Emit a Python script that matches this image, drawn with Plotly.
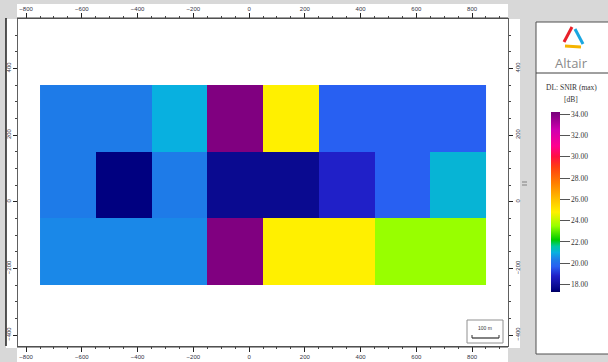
import plotly.graph_objects as go

# ---- data ----
x_centers = [-650, -450, -250, -50, 150, 350, 550, 750]
y_centers = [250, 50, -150]
row_top = [20.3, 20.3, 21.0, 34.0, 24.8, 19.7, 19.7, 19.7]
row_mid = [20.3, 17.5, 20.3, 17.8, 17.8, 18.8, 19.7, 21.1]
row_bot = [20.5, 20.5, 20.5, 34.0, 24.8, 24.8, 23.5, 23.5]
cbar_ticks = [18, 20, 22, 24, 26, 28, 30, 32, 34]
zmin, zmax = 17.3, 34.2

scale_stops = [
    (17.3, "#00005a"), (17.5, "#000080"), (17.8, "#0a0a90"), (18.8, "#2020c8"),
    (19.7, "#2860f2"), (20.3, "#1e7be8"), (20.5, "#1a88e8"), (21.0, "#08b0e0"),
    (21.6, "#00c8a0"), (22.2, "#00cc00"), (23.5, "#98ff00"), (24.8, "#fff000"),
    (26.0, "#ffc000"), (27.5, "#ff8000"), (29.0, "#ff4010"), (30.0, "#ff1040"),
    (31.0, "#ff0090"), (32.5, "#d000b0"), (34.0, "#800080"), (34.2, "#780078"),
]
colorscale = [[(v - zmin) / (zmax - zmin), c] for v, c in scale_stops]
colorscale[0][0] = 0.0
colorscale[-1][0] = 1.0

W, H = 608, 362
L, R, T, B = 18, 508, 19, 346


def px(x):
    return (x - L) / (R - L)


def py(y):
    return (B - y) / (B - T)


fig = go.Figure()
fig.add_trace(go.Heatmap(
    x=x_centers, y=y_centers, z=[row_top, row_mid, row_bot],
    colorscale=colorscale, zmin=zmin, zmax=zmax, hoverinfo="skip",
    colorbar=dict(
        x=px(551), xanchor="left", y=py(112), yanchor="top",
        lenmode="pixels", len=180, thickness=9, thicknessmode="pixels",
        xpad=0, ypad=0, outlinewidth=0,
        tickvals=cbar_ticks, tickformat=".2f",
        ticks="outside", ticklen=10, tickcolor="#555555", tickwidth=1,
        tickfont=dict(family="Liberation Serif", size=7.5, color="#333333"),
    ),
))
fig.add_trace(go.Scatter(x=[None], y=[None], xaxis="x2", yaxis="y2",
                         showlegend=False, hoverinfo="skip"))

xr = [-829, 929]
yr = [-433, 548]
tickfont = dict(family="Liberation Sans", size=6, color="#333344")
common_x = dict(range=xr, tick0=0, dtick=200, ticks="outside", ticklen=5,
                tickcolor="#222222", tickfont=tickfont, showgrid=False,
                zeroline=False, showline=True, linecolor="#606060", linewidth=1,
                automargin=False,
                minor=dict(tick0=0, dtick=50, ticks="outside", ticklen=2,
                           tickcolor="#444444"),
                fixedrange=True)
common_y = dict(range=yr, tick0=0, dtick=200, ticks="outside", ticklen=4,
                tickcolor="#222222", tickfont=tickfont, showgrid=False,
                zeroline=False, showline=True, linecolor="#606060", linewidth=1,
                tickangle=-90, automargin=False,
                minor=dict(tick0=0, dtick=50, ticks="outside", ticklen=2,
                           tickcolor="#444444"),
                fixedrange=True)

fig.update_layout(
    width=W, height=H,
    margin=dict(l=L, r=W - R, t=T, b=H - B, pad=0, autoexpand=False),
    paper_bgcolor="#d8d8d8", plot_bgcolor="white",
    showlegend=False,
    xaxis=dict(side="bottom", **common_x),
    xaxis2=dict(side="top", overlaying="x", **common_x),
    yaxis=dict(side="left", **common_y),
    yaxis2=dict(side="right", overlaying="y", **common_y),
)

shapes = []


def rect(x0, y0, x1, y1, fill, line=None, lw=0, layer="below"):
    shapes.append(dict(type="rect", xref="paper", yref="paper",
                       x0=px(x0), x1=px(x1), y0=py(y0), y1=py(y1),
                       fillcolor=fill, layer=layer,
                       line=dict(color=line or fill, width=lw)))


def line(x0, y0, x1, y1, color, w=1, layer="above"):
    shapes.append(dict(type="line", xref="paper", yref="paper",
                       x0=px(x0), x1=px(x1), y0=py(y0), y1=py(y1),
                       layer=layer, line=dict(color=color, width=w)))


# rulers (white strips)
rect(17, 4, 508, 19, "white")
rect(6, 19, 18, 348, "white")
rect(17, 346, 508, 362, "white")
rect(508, 19, 520, 348, "white")
line(6, 18, 6, 346, "#202020", 1.5)
line(17, 18, 508, 18, "#404040", 1)
line(17, 347, 508, 347, "#404040", 1)
# legend panel
rect(536, 22, 612, 354, "white", "#505050", 1)
line(536, 73, 612, 73, "#404040", 1)
# scrollbar markers
line(522, 182, 527, 182, "#808080", 1)
line(522, 185, 527, 185, "#808080", 1)
# scale bar box
rect(467, 320, 503, 343, "white", "#909090", 1, layer="above")
line(472, 338, 499, 338, "#303030", 1.2)
line(472, 338, 472, 335, "#303030", 1)
line(499, 338, 499, 335, "#303030", 1)
# Altair logo
line(572, 27, 564, 42, "#e8202a", 3)
line(575, 29, 583, 44, "#1aa6e0", 3)
line(565, 46, 581, 47, "#f5b400", 3)

fig.update_layout(shapes=shapes)

ann = [
    dict(x=px(571), y=py(63), text="Altair",
         font=dict(family="Open Sans", size=13, color="#8a8a8a")),
    dict(x=px(571), y=py(87), text="DL: SNIR (max)",
         font=dict(family="Liberation Serif", size=7.5, color="#333333")),
    dict(x=px(571), y=py(100), text="[dB]",
         font=dict(family="Liberation Serif", size=7.5, color="#333333")),
    dict(x=px(485), y=py(328), text="100 m",
         font=dict(family="Liberation Sans", size=5, color="#333333")),
]
for a in ann:
    a.update(xref="paper", yref="paper", showarrow=False,
             xanchor="center", yanchor="middle")
fig.update_layout(annotations=ann)

fig.write_html(
    "out.html",
    config={"displayModeBar": False, "staticPlot": True},
    post_script="document.body.style.margin='0';document.body.style.overflow='hidden';",
)
